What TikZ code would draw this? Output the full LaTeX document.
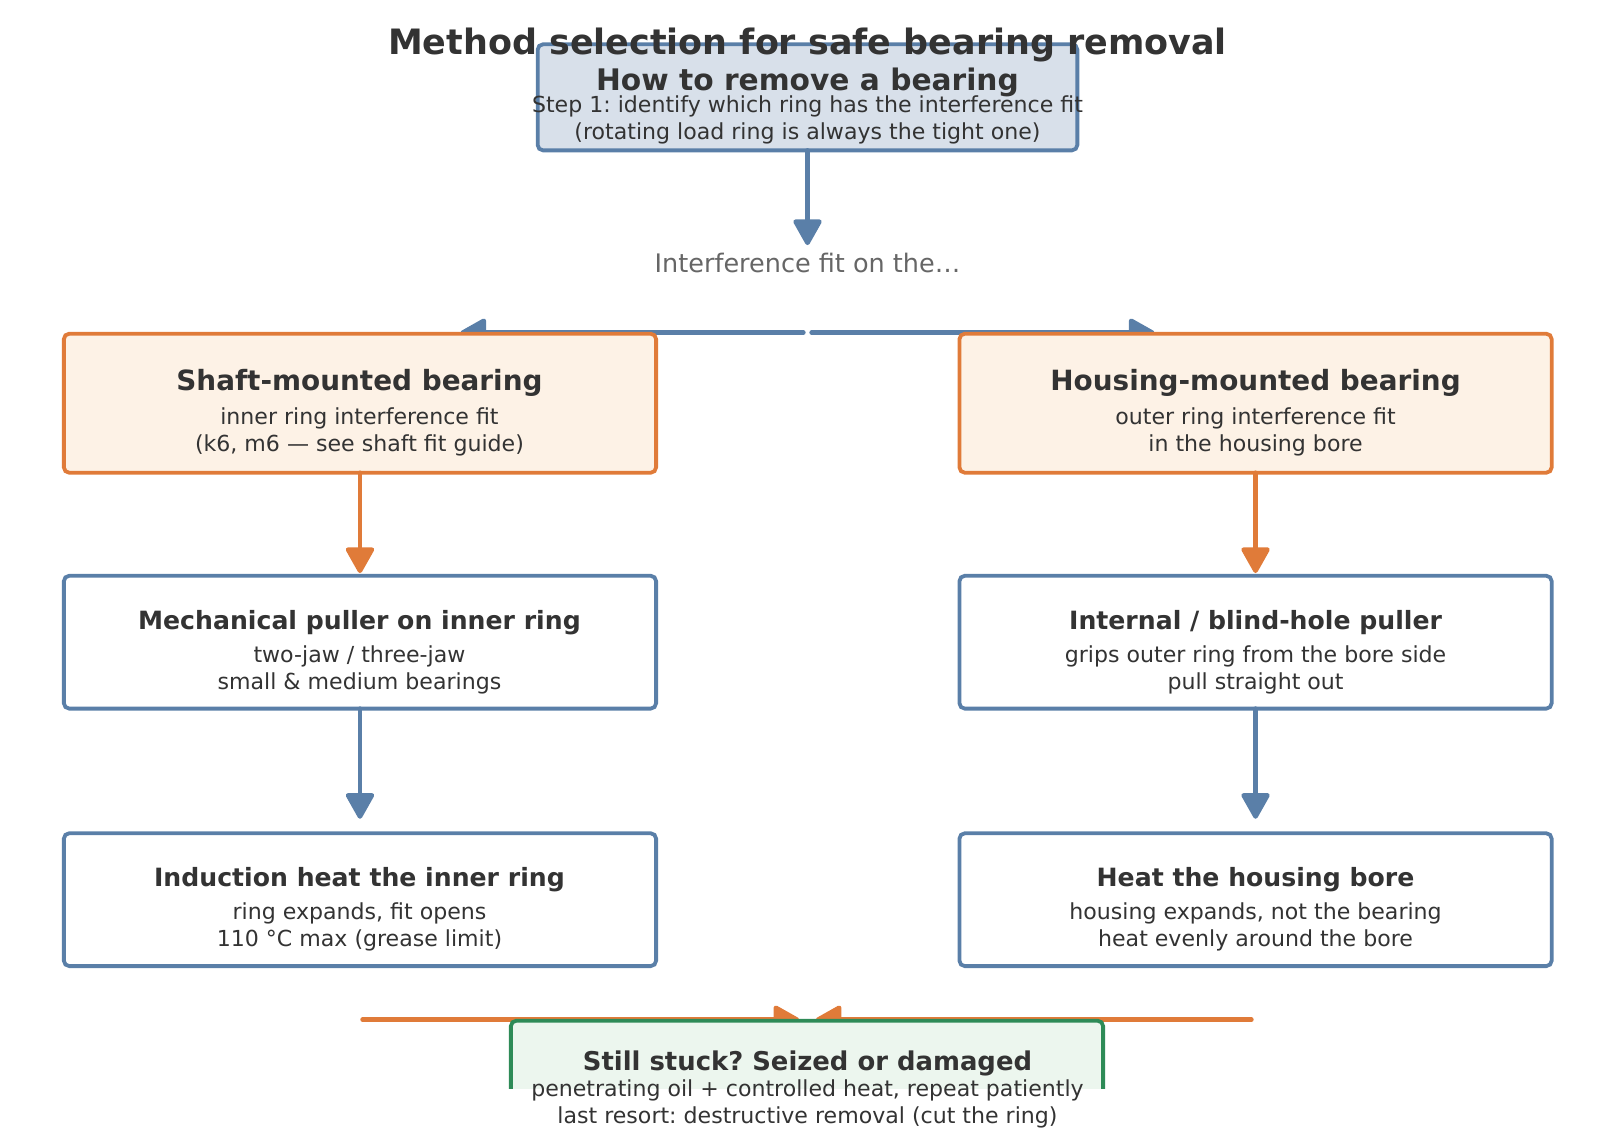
\documentclass[tikz,border=0pt]{standalone}
\usepackage{fontspec}
\setmainfont{DejaVu Sans}
\usetikzlibrary{arrows.meta}
\frenchspacing
\definecolor{cblue}{HTML}{5A7FA8}
\definecolor{cbluefill}{HTML}{D8E0EA}
\definecolor{corange}{HTML}{E07B39}
\definecolor{corangefill}{HTML}{FDF2E6}
\definecolor{cgreen}{HTML}{2E8B57}
\definecolor{cgreenfill}{HTML}{ECF6EE}
\definecolor{ctext}{HTML}{333333}
\definecolor{cgray}{HTML}{666666}
\tikzset{
  boxbase/.style={draw, line width=2.1pt, rounded corners=3pt, inner sep=0pt, outer sep=0pt},
  topbox/.style={boxbase, draw=cblue, fill=cbluefill, minimum width=524*0.02cm, minimum height=103*0.02cm},
  orbox/.style={boxbase, draw=corange, fill=corangefill, minimum width=575*0.02cm, minimum height=135*0.02cm},
  blbox/.style={boxbase, draw=cblue, fill=white, minimum width=575*0.02cm, minimum height=129*0.02cm},
  grbox/.style={boxbase, draw=cgreen, fill=cgreenfill, minimum width=575*0.02cm, minimum height=135*0.02cm},
  txt/.style={anchor=base, inner sep=0pt, text=ctext},
  ttl/.style={txt, font=\bfseries\fontsize{19.3}{23}\selectfont},
  hd/.style={txt, font=\bfseries\fontsize{16.4}{20}\selectfont},
  oh/.style={txt, font=\bfseries\fontsize{15.4}{19}\selectfont},
  bh/.style={txt, font=\bfseries\fontsize{13.9}{17}\selectfont},
  gh/.style={txt, font=\bfseries\fontsize{14.3}{17}\selectfont},
  sub/.style={txt, font=\fontsize{12.2}{15}\selectfont},
  lbl/.style={txt, text=cgray, font=\fontsize{14.1}{17}\selectfont},
  conn/.style={line width=2.5pt, line cap=round, -{Triangle[length=15.6pt,width=16.8pt,round]}},
}
\begin{document}
\begin{tikzpicture}[x=0.02cm,y=-0.02cm]
\useasboundingbox (0,0) rectangle (1568,1114);

% free connector ends
\coordinate (q) at (784,238);
\coordinate (sl) at (780,323);
\coordinate (sr) at (788,323);
\coordinate (al) at (447,323);
\coordinate (ar) at (1121,323);
\coordinate (bl) at (352,990);
\coordinate (br) at (1215,990);
\coordinate (tl) at (776,990);
\coordinate (tr) at (792,990);

% connectors drawn under the boxes
\draw[conn, cblue] (sl) -- (al);
\draw[conn, cblue] (sr) -- (ar);
\draw[conn, corange] (bl) -- (tl);
\draw[conn, corange] (br) -- (tr);

% boxes
\node[topbox] (top) at (784,94.5) {};
\node[orbox] (shaft) at (349.5,391.5) {};
\node[orbox] (house) at (1219,391.5) {};
\node[blbox] (mech) at (349.5,623.5) {};
\node[blbox] (blind) at (1219,623.5) {};
\node[blbox] (induct) at (349.5,873.5) {};
\node[blbox] (heatb) at (1219,873.5) {};
\begin{scope}
  \clip (0,0) rectangle (1568,1057);
  \node[grbox] (stuck) at (783.5,1058.5) {};
\end{scope}

% connectors between boxes
\draw[conn, cblue] (top.south) -- (q);
\draw[conn, corange, shorten >=1.5pt] (shaft.south) -- (mech.north);
\draw[conn, corange, shorten >=1.5pt] (house.south) -- (blind.north);
\draw[conn, cblue, shorten >=8pt] (mech.south) -- (induct.north);
\draw[conn, cblue, shorten >=8pt] (blind.south) -- (heatb.north);

% texts
\node[lbl] (qlbl) at (784,265) {Interference fit on the…};

\node[hd] (topt) at (784,88) {How to remove a bearing};
\node[sub] (topa) at (784,109) {Step 1: identify which ring has the interference fit};
\node[sub] (topb) at (784,135) {(rotating load ring is always the tight one)};

\node[oh] (shaftt) at (349,379) {Shaft-mounted bearing};
\node[sub] (shafta) at (349,412) {inner ring interference fit};
\node[sub] (shaftb) at (349,438) {(k6, m6 — see shaft fit guide)};

\node[oh] (houset) at (1219,379) {Housing-mounted bearing};
\node[sub] (housea) at (1219,412) {outer ring interference fit};
\node[sub] (houseb) at (1219,438) {in the housing bore};

\node[bh] (mecht) at (349,611) {Mechanical puller on inner ring};
\node[sub] (mecha) at (349,643) {two-jaw / three-jaw};
\node[sub] (mechb) at (349,669) {small \& medium bearings};

\node[bh] (blindt) at (1219,611) {Internal / blind-hole puller};
\node[sub] (blinda) at (1219,643) {grips outer ring from the bore side};
\node[sub] (blindb) at (1219,669) {pull straight out};

\node[bh] (inductt) at (349,861) {Induction heat the inner ring};
\node[sub] (inducta) at (349,893) {ring expands, fit opens};
\node[sub] (inductb) at (349,919) {110 °C max (grease limit)};

\node[bh] (heatbt) at (1219,861) {Heat the housing bore};
\node[sub] (heatba) at (1219,893) {housing expands, not the bearing};
\node[sub] (heatbb) at (1219,919) {heat evenly around the bore};

\node[gh] (stuckt) at (784,1039) {Still stuck? Seized or damaged};
\node[sub] (stucka) at (784,1065) {penetrating oil + controlled heat, repeat patiently};
\node[sub] (stuckb) at (784,1091) {last resort: destructive removal (cut the ring)};

% title on top
\node[ttl] (title) at (784,53) {Method selection for safe bearing removal};
\end{tikzpicture}
\end{document}
